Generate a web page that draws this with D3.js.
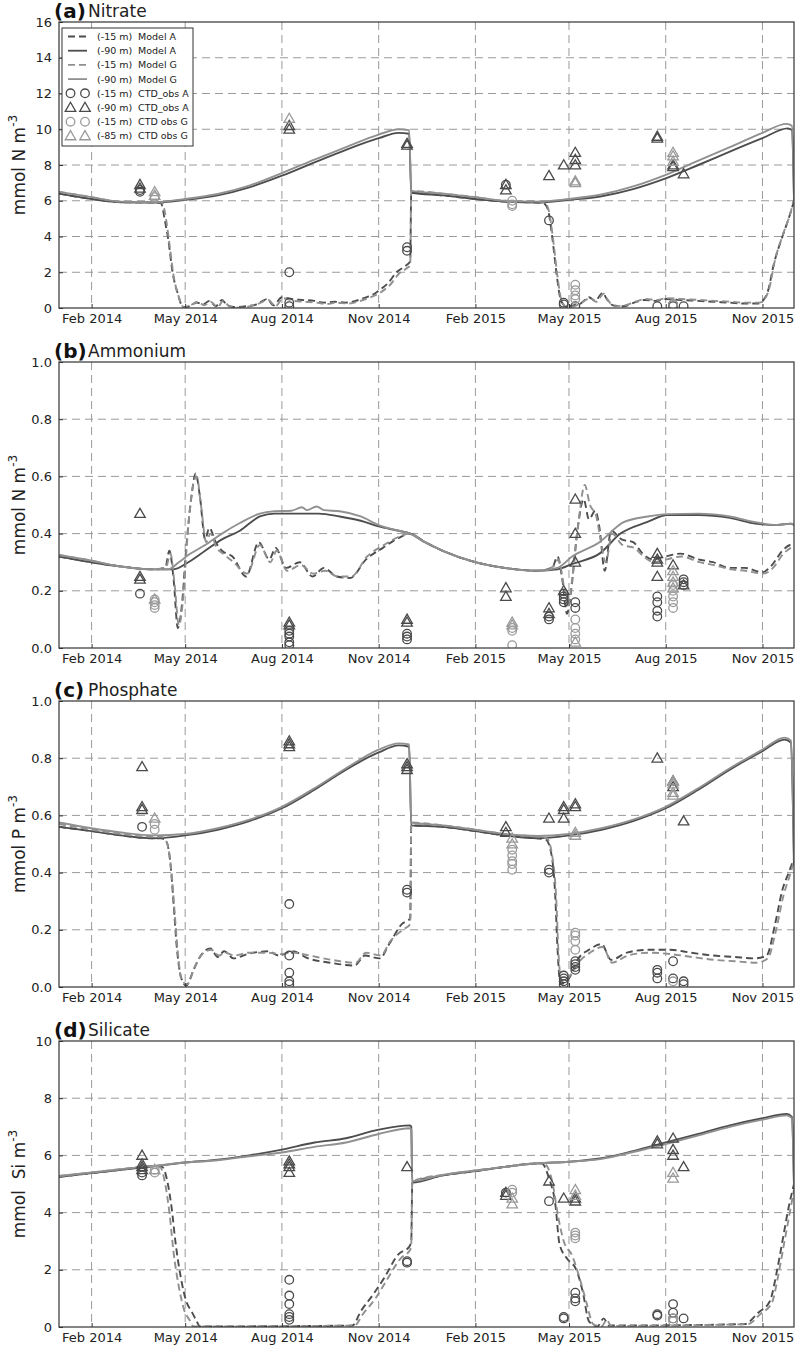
<!DOCTYPE html>
<html>
<head>
<meta charset="utf-8">
<script src="https://cdn.jsdelivr.net/npm/d3@7"></script>
<style>
  body { margin: 0; background: #fff; }
  svg { font-family: "DejaVu Sans", sans-serif; }
</style>
</head>
<body>
<div id="chart"></div>
<script>
// ---- tick labels ----
const xTickDates = ["2014-02-01", "2014-05-01", "2014-08-01", "2014-11-01", "2015-02-01", "2015-05-01", "2015-08-01", "2015-11-01"];
const yTicksNitrate = [0, 2, 4, 6, 8, 10, 12, 14, 16];
const yTicksFrac = [0, 0.2, 0.4, 0.6, 0.8, 1.0];
const yTicksSilicate = [0, 2, 4, 6, 8, 10];

// ---- (a) Nitrate: model series [date, value] ----
const nitrate_A15 = [["2014-01-01",6.4],["2014-02-01",6.1],["2014-03-01",5.92],["2014-04-01",5.9],["2014-04-08",5.85],["2014-04-12",4.8],["2014-04-15",3.8],["2014-04-19",2.0],["2014-04-24",0.8],["2014-04-29",0.05],["2014-05-05",0.1],["2014-05-12",0.3],["2014-05-18",0.2],["2014-05-24",0.4],["2014-05-30",0.1],["2014-06-05",0.45],["2014-06-10",0.15],["2014-06-18",0.05],["2014-06-28",0.1],["2014-07-08",0.2],["2014-07-18",0.5],["2014-07-24",0.15],["2014-08-01",0.6],["2014-08-10",0.5],["2014-08-20",0.45],["2014-09-01",0.4],["2014-09-10",0.3],["2014-09-20",0.35],["2014-10-01",0.3],["2014-10-10",0.4],["2014-10-20",0.6],["2014-10-28",0.8],["2014-11-04",1.1],["2014-11-10",1.4],["2014-11-18",2.0],["2014-11-25",2.3],["2014-12-01",2.6],["2014-12-02",6.45],["2015-01-01",6.3],["2015-02-01",6.1],["2015-03-01",5.95],["2015-04-01",5.9],["2015-04-07",5.85],["2015-04-11",5.5],["2015-04-15",4.0],["2015-04-19",2.0],["2015-04-23",0.5],["2015-04-28",0.1],["2015-05-05",0.15],["2015-05-12",0.25],["2015-05-20",0.6],["2015-05-26",0.4],["2015-06-02",0.85],["2015-06-06",0.5],["2015-06-12",0.15],["2015-06-22",0.1],["2015-07-02",0.3],["2015-07-12",0.45],["2015-07-22",0.4],["2015-08-01",0.5],["2015-08-15",0.45],["2015-09-01",0.4],["2015-09-15",0.35],["2015-10-01",0.3],["2015-10-15",0.25],["2015-10-28",0.25],["2015-11-02",0.45],["2015-11-06",0.9],["2015-11-12",2.5],["2015-11-20",4.0],["2015-11-27",5.2],["2015-12-01",6.0]];
const nitrate_A90 = [["2014-01-01",6.4],["2014-02-01",6.1],["2014-03-01",5.92],["2014-04-01",5.9],["2014-05-01",6.05],["2014-06-01",6.3],["2014-07-01",6.75],["2014-08-01",7.4],["2014-09-01",8.15],["2014-10-01",8.85],["2014-11-01",9.5],["2014-11-20",9.8],["2014-11-30",9.75],["2014-12-02",6.45],["2015-01-01",6.3],["2015-02-01",6.1],["2015-03-01",5.95],["2015-04-01",5.9],["2015-05-01",6.05],["2015-06-01",6.25],["2015-07-01",6.65],["2015-08-01",7.25],["2015-09-01",8.0],["2015-10-01",8.75],["2015-11-01",9.5],["2015-11-25",10.05],["2015-11-29",9.95],["2015-12-01",6.2]];
const nitrate_G15 = [["2014-01-01",6.5],["2014-02-01",6.2],["2014-03-01",5.95],["2014-04-01",5.92],["2014-04-09",5.9],["2014-04-13",4.9],["2014-04-16",3.6],["2014-04-20",1.8],["2014-04-25",0.6],["2014-04-30",0.02],["2014-05-06",0.15],["2014-05-13",0.35],["2014-05-19",0.15],["2014-05-25",0.35],["2014-06-01",0.05],["2014-06-06",0.4],["2014-06-12",0.1],["2014-06-20",0.02],["2014-06-30",0.08],["2014-07-10",0.25],["2014-07-19",0.45],["2014-07-26",0.1],["2014-08-02",0.55],["2014-08-12",0.4],["2014-08-22",0.35],["2014-09-03",0.3],["2014-09-12",0.22],["2014-09-22",0.3],["2014-10-03",0.25],["2014-10-12",0.35],["2014-10-22",0.55],["2014-10-30",0.75],["2014-11-06",1.0],["2014-11-12",1.3],["2014-11-20",1.9],["2014-11-27",2.2],["2014-12-01",2.4],["2014-12-02",6.55],["2015-01-01",6.4],["2015-02-01",6.2],["2015-03-01",6.0],["2015-04-01",5.95],["2015-04-08",5.9],["2015-04-12",5.4],["2015-04-16",3.8],["2015-04-20",1.8],["2015-04-24",0.4],["2015-04-29",0.05],["2015-05-06",0.1],["2015-05-13",0.3],["2015-05-21",0.55],["2015-05-27",0.35],["2015-06-03",0.8],["2015-06-07",0.45],["2015-06-13",0.1],["2015-06-23",0.15],["2015-07-03",0.35],["2015-07-13",0.5],["2015-07-23",0.45],["2015-08-02",0.55],["2015-08-16",0.5],["2015-09-02",0.45],["2015-09-16",0.4],["2015-10-02",0.35],["2015-10-16",0.3],["2015-10-29",0.3],["2015-11-03",0.5],["2015-11-07",1.0],["2015-11-13",2.7],["2015-11-21",4.2],["2015-11-28",5.4],["2015-12-01",6.1]];
const nitrate_G90 = [["2014-01-01",6.5],["2014-02-01",6.2],["2014-03-01",5.95],["2014-04-01",5.92],["2014-05-01",6.1],["2014-06-01",6.38],["2014-07-01",6.85],["2014-08-01",7.55],["2014-09-01",8.3],["2014-10-01",9.0],["2014-11-01",9.7],["2014-11-20",10.0],["2014-11-30",9.95],["2014-12-02",6.55],["2015-01-01",6.4],["2015-02-01",6.2],["2015-03-01",6.0],["2015-04-01",5.95],["2015-05-01",6.1],["2015-06-01",6.35],["2015-07-01",6.8],["2015-08-01",7.45],["2015-09-01",8.25],["2015-10-01",9.0],["2015-11-01",9.8],["2015-11-24",10.3],["2015-11-29",10.2],["2015-12-01",6.0]];
// observations
const nitrate_obsA15 = [["2014-03-19",6.5],["2014-03-19",6.6],["2014-08-08",2.0],["2014-08-08",0.3],["2014-08-08",0.1],["2014-11-28",3.4],["2014-11-28",3.2],["2015-03-02",6.9],["2015-04-12",4.9],["2015-04-26",0.3],["2015-04-26",0.2],["2015-05-07",0.1],["2015-07-24",0.1],["2015-08-08",0.2],["2015-08-08",0.1],["2015-08-18",0.1]];
const nitrate_obsA90 = [["2014-03-19",6.9],["2014-03-19",6.7],["2014-08-08",10.2],["2014-08-08",10.0],["2014-11-28",9.2],["2014-11-28",9.1],["2015-03-02",6.9],["2015-03-02",6.6],["2015-04-12",7.4],["2015-04-26",8.0],["2015-05-07",8.7],["2015-05-07",8.3],["2015-05-07",8.0],["2015-07-24",9.6],["2015-07-24",9.5],["2015-08-08",8.0],["2015-08-08",7.9],["2015-08-18",7.5]];
const nitrate_obsG15 = [["2014-04-02",6.2],["2015-03-08",6.0],["2015-03-08",5.8],["2015-03-08",5.7],["2015-05-07",1.3],["2015-05-07",1.0],["2015-05-07",0.7],["2015-05-07",0.5],["2015-08-08",0.2]];
const nitrate_obsG85 = [["2014-04-02",6.5],["2014-04-02",6.3],["2014-08-08",10.6],["2015-05-07",7.1],["2015-05-07",7.0],["2015-08-08",8.7],["2015-08-08",8.5],["2015-08-08",8.2]];

// ---- (b) Ammonium ----
const ammonium_A15 = [["2014-01-01",0.32],["2014-02-01",0.30],["2014-03-01",0.285],["2014-04-01",0.275],["2014-04-12",0.28],["2014-04-16",0.34],["2014-04-20",0.24],["2014-04-24",0.07],["2014-04-28",0.155],["2014-05-02",0.35],["2014-05-07",0.53],["2014-05-11",0.61],["2014-05-15",0.53],["2014-05-20",0.38],["2014-05-24",0.42],["2014-05-30",0.37],["2014-06-05",0.34],["2014-06-15",0.32],["2014-06-28",0.25],["2014-07-10",0.37],["2014-07-20",0.31],["2014-07-26",0.35],["2014-08-05",0.28],["2014-08-18",0.30],["2014-08-30",0.25],["2014-09-10",0.28],["2014-09-22",0.25],["2014-10-05",0.245],["2014-10-20",0.31],["2014-11-05",0.35],["2014-11-20",0.385],["2014-12-01",0.40],["2014-12-15",0.37],["2015-01-01",0.34],["2015-02-01",0.30],["2015-03-01",0.28],["2015-04-01",0.27],["2015-04-15",0.28],["2015-04-20",0.32],["2015-04-25",0.23],["2015-04-29",0.12],["2015-05-03",0.20],["2015-05-09",0.41],["2015-05-15",0.52],["2015-05-20",0.45],["2015-05-26",0.48],["2015-05-30",0.42],["2015-06-04",0.27],["2015-06-10",0.41],["2015-06-20",0.38],["2015-07-01",0.37],["2015-07-10",0.33],["2015-07-20",0.31],["2015-08-01",0.32],["2015-08-15",0.33],["2015-09-01",0.31],["2015-09-15",0.30],["2015-10-01",0.28],["2015-10-15",0.28],["2015-11-01",0.265],["2015-11-10",0.29],["2015-11-20",0.34],["2015-11-28",0.36],["2015-12-01",0.36]];
const ammonium_A90 = [["2014-01-01",0.32],["2014-02-01",0.30],["2014-03-01",0.285],["2014-04-01",0.275],["2014-04-20",0.275],["2014-05-04",0.30],["2014-05-20",0.34],["2014-06-05",0.38],["2014-06-22",0.41],["2014-07-11",0.46],["2014-07-25",0.47],["2014-08-15",0.47],["2014-09-05",0.47],["2014-09-25",0.46],["2014-10-15",0.445],["2014-11-01",0.425],["2014-11-20",0.41],["2014-12-01",0.40],["2014-12-15",0.37],["2015-01-01",0.34],["2015-02-01",0.30],["2015-03-01",0.28],["2015-04-01",0.27],["2015-04-20",0.275],["2015-05-05",0.295],["2015-05-30",0.33],["2015-06-19",0.40],["2015-07-14",0.44],["2015-08-03",0.465],["2015-09-01",0.465],["2015-10-01",0.455],["2015-10-25",0.435],["2015-11-15",0.43],["2015-11-28",0.435],["2015-12-01",0.43]];
const ammonium_G15 = [["2014-01-01",0.325],["2014-02-01",0.305],["2014-03-01",0.285],["2014-04-01",0.275],["2014-04-13",0.285],["2014-04-17",0.33],["2014-04-21",0.22],["2014-04-25",0.08],["2014-04-29",0.17],["2014-05-03",0.38],["2014-05-08",0.56],["2014-05-12",0.60],["2014-05-16",0.50],["2014-05-21",0.37],["2014-05-25",0.40],["2014-05-31",0.35],["2014-06-06",0.33],["2014-06-16",0.30],["2014-06-29",0.26],["2014-07-11",0.36],["2014-07-21",0.30],["2014-07-27",0.34],["2014-08-06",0.27],["2014-08-19",0.29],["2014-08-31",0.26],["2014-09-11",0.27],["2014-09-23",0.25],["2014-10-06",0.25],["2014-10-21",0.32],["2014-11-06",0.36],["2014-11-21",0.39],["2014-12-01",0.40],["2014-12-15",0.37],["2015-01-01",0.34],["2015-02-01",0.30],["2015-03-01",0.28],["2015-04-01",0.27],["2015-04-16",0.285],["2015-04-21",0.31],["2015-04-26",0.22],["2015-04-30",0.14],["2015-05-04",0.24],["2015-05-10",0.44],["2015-05-16",0.57],["2015-05-21",0.50],["2015-05-27",0.46],["2015-05-31",0.38],["2015-06-05",0.30],["2015-06-11",0.40],["2015-06-21",0.36],["2015-07-02",0.35],["2015-07-11",0.32],["2015-07-21",0.30],["2015-08-02",0.31],["2015-08-16",0.32],["2015-09-02",0.30],["2015-09-16",0.29],["2015-10-02",0.275],["2015-10-16",0.27],["2015-11-02",0.26],["2015-11-11",0.28],["2015-11-21",0.33],["2015-11-28",0.35],["2015-12-01",0.355]];
const ammonium_G90 = [["2014-01-01",0.325],["2014-02-01",0.305],["2014-03-01",0.285],["2014-04-01",0.275],["2014-04-15",0.275],["2014-04-25",0.30],["2014-05-04",0.325],["2014-05-20",0.36],["2014-06-05",0.40],["2014-06-22",0.437],["2014-07-11",0.47],["2014-07-25",0.478],["2014-08-10",0.48],["2014-08-20",0.492],["2014-08-25",0.482],["2014-09-03",0.495],["2014-09-10",0.482],["2014-09-25",0.478],["2014-10-15",0.46],["2014-11-01",0.43],["2014-11-20",0.41],["2014-12-01",0.40],["2014-12-15",0.37],["2015-01-01",0.34],["2015-02-01",0.30],["2015-03-01",0.28],["2015-04-01",0.27],["2015-04-20",0.28],["2015-05-04",0.32],["2015-05-30",0.37],["2015-06-22",0.44],["2015-07-15",0.46],["2015-08-03",0.468],["2015-09-01",0.47],["2015-10-01",0.46],["2015-10-25",0.44],["2015-11-15",0.43],["2015-11-28",0.435],["2015-12-01",0.43]];
const ammonium_obsA15 = [["2014-03-19",0.19],["2014-08-08",0.06],["2014-08-08",0.05],["2014-08-08",0.04],["2014-08-08",0.02],["2014-08-08",0.01],["2014-11-28",0.05],["2014-11-28",0.04],["2014-11-28",0.03],["2015-04-12",0.11],["2015-04-12",0.10],["2015-04-26",0.19],["2015-04-26",0.18],["2015-04-26",0.17],["2015-04-26",0.16],["2015-05-07",0.16],["2015-05-07",0.14],["2015-07-24",0.18],["2015-07-24",0.16],["2015-07-24",0.13],["2015-07-24",0.11],["2015-08-18",0.24],["2015-08-18",0.23],["2015-08-18",0.22]];
const ammonium_obsA90 = [["2014-03-19",0.47],["2014-03-19",0.25],["2014-03-19",0.24],["2014-08-08",0.09],["2014-08-08",0.08],["2014-11-28",0.10],["2014-11-28",0.09],["2015-03-02",0.21],["2015-03-02",0.18],["2015-04-12",0.14],["2015-04-12",0.12],["2015-04-26",0.20],["2015-05-07",0.52],["2015-05-07",0.40],["2015-05-07",0.30],["2015-07-24",0.33],["2015-07-24",0.31],["2015-07-24",0.30],["2015-07-24",0.25],["2015-08-08",0.29],["2015-08-18",0.22]];
const ammonium_obsG15 = [["2014-04-02",0.17],["2014-04-02",0.16],["2014-04-02",0.15],["2014-04-02",0.14],["2015-03-08",0.07],["2015-03-08",0.06],["2015-03-08",0.01],["2015-05-07",0.10],["2015-05-07",0.07],["2015-05-07",0.05],["2015-05-07",0.03],["2015-08-08",0.22],["2015-08-08",0.20],["2015-08-08",0.18],["2015-08-08",0.16],["2015-08-08",0.14]];
const ammonium_obsG85 = [["2014-04-02",0.17],["2015-03-08",0.09],["2015-03-08",0.08],["2015-05-07",0.02],["2015-08-08",0.27],["2015-08-08",0.25],["2015-08-08",0.23],["2015-08-08",0.21]];

// ---- (c) Phosphate ----
const phosphate_A15 = [["2014-01-01",0.56],["2014-02-01",0.545],["2014-03-01",0.53],["2014-04-01",0.52],["2014-04-08",0.52],["2014-04-13",0.51],["2014-04-17",0.43],["2014-04-20",0.29],["2014-04-23",0.14],["2014-04-27",0.035],["2014-05-02",0.005],["2014-05-09",0.06],["2014-05-15",0.105],["2014-05-25",0.135],["2014-06-01",0.105],["2014-06-07",0.125],["2014-06-16",0.10],["2014-06-29",0.115],["2014-07-19",0.125],["2014-07-29",0.11],["2014-08-11",0.125],["2014-08-26",0.10],["2014-09-16",0.085],["2014-10-09",0.075],["2014-10-19",0.11],["2014-11-02",0.10],["2014-11-11",0.15],["2014-11-23",0.22],["2014-12-01",0.24],["2014-12-02",0.565],["2015-01-01",0.56],["2015-02-01",0.545],["2015-03-01",0.53],["2015-04-01",0.52],["2015-04-09",0.515],["2015-04-14",0.47],["2015-04-18",0.315],["2015-04-20",0.14],["2015-04-23",0.01],["2015-05-01",0.03],["2015-05-10",0.10],["2015-05-20",0.13],["2015-06-01",0.15],["2015-06-10",0.095],["2015-06-25",0.12],["2015-07-15",0.13],["2015-08-05",0.13],["2015-08-25",0.12],["2015-09-15",0.11],["2015-10-05",0.105],["2015-10-25",0.10],["2015-11-05",0.11],["2015-11-13",0.22],["2015-11-20",0.34],["2015-11-26",0.40],["2015-12-01",0.45]];
const phosphate_A90 = [["2014-01-01",0.56],["2014-02-01",0.545],["2014-03-01",0.53],["2014-04-01",0.52],["2014-05-01",0.53],["2014-06-01",0.55],["2014-07-01",0.58],["2014-08-01",0.625],["2014-09-01",0.69],["2014-10-01",0.76],["2014-11-01",0.82],["2014-11-20",0.845],["2014-11-30",0.84],["2014-12-02",0.565],["2015-01-01",0.56],["2015-02-01",0.545],["2015-03-01",0.53],["2015-04-01",0.52],["2015-05-01",0.53],["2015-06-01",0.55],["2015-07-01",0.58],["2015-08-01",0.625],["2015-09-01",0.69],["2015-10-01",0.76],["2015-11-01",0.825],["2015-11-22",0.865],["2015-11-28",0.855],["2015-12-01",0.43]];
const phosphate_G15 = [["2014-01-01",0.57],["2014-02-01",0.55],["2014-03-01",0.535],["2014-04-01",0.525],["2014-04-09",0.525],["2014-04-14",0.50],["2014-04-18",0.40],["2014-04-21",0.26],["2014-04-24",0.12],["2014-04-28",0.02],["2014-05-03",0.01],["2014-05-10",0.07],["2014-05-16",0.11],["2014-05-26",0.13],["2014-06-02",0.11],["2014-06-08",0.12],["2014-06-17",0.11],["2014-06-30",0.12],["2014-07-20",0.12],["2014-07-30",0.115],["2014-08-12",0.12],["2014-08-27",0.11],["2014-09-17",0.095],["2014-10-10",0.085],["2014-10-20",0.12],["2014-11-03",0.11],["2014-11-12",0.16],["2014-11-24",0.20],["2014-12-01",0.22],["2014-12-02",0.575],["2015-01-01",0.565],["2015-02-01",0.55],["2015-03-01",0.535],["2015-04-01",0.525],["2015-04-10",0.52],["2015-04-15",0.46],["2015-04-19",0.30],["2015-04-21",0.12],["2015-04-24",0.02],["2015-05-02",0.04],["2015-05-11",0.09],["2015-05-21",0.12],["2015-06-02",0.14],["2015-06-11",0.085],["2015-06-26",0.11],["2015-07-16",0.12],["2015-08-06",0.115],["2015-08-26",0.105],["2015-09-16",0.095],["2015-10-06",0.09],["2015-10-26",0.085],["2015-11-06",0.10],["2015-11-14",0.20],["2015-11-21",0.32],["2015-11-27",0.39],["2015-12-01",0.44]];
const phosphate_G90 = [["2014-01-01",0.575],["2014-02-01",0.555],["2014-03-01",0.54],["2014-04-01",0.53],["2014-05-01",0.535],["2014-06-01",0.555],["2014-07-01",0.585],["2014-08-01",0.63],["2014-09-01",0.695],["2014-10-01",0.765],["2014-11-01",0.83],["2014-11-20",0.852],["2014-11-30",0.848],["2014-12-02",0.575],["2015-01-01",0.565],["2015-02-01",0.55],["2015-03-01",0.535],["2015-04-01",0.528],["2015-05-01",0.535],["2015-06-01",0.555],["2015-07-01",0.585],["2015-08-01",0.63],["2015-09-01",0.695],["2015-10-01",0.765],["2015-11-01",0.83],["2015-11-22",0.872],["2015-11-28",0.862],["2015-12-01",0.44]];
const phosphate_obsA15 = [["2014-03-21",0.56],["2014-08-08",0.29],["2014-08-08",0.11],["2014-08-08",0.05],["2014-08-08",0.02],["2014-08-08",0.01],["2014-11-28",0.34],["2014-11-28",0.33],["2015-04-12",0.41],["2015-04-12",0.40],["2015-04-26",0.04],["2015-04-26",0.03],["2015-04-26",0.02],["2015-04-26",0.01],["2015-05-07",0.09],["2015-05-07",0.08],["2015-05-07",0.07],["2015-05-07",0.06],["2015-07-24",0.06],["2015-07-24",0.05],["2015-07-24",0.03],["2015-08-08",0.09],["2015-08-08",0.03],["2015-08-18",0.02],["2015-08-18",0.01]];
const phosphate_obsA90 = [["2014-03-21",0.77],["2014-03-21",0.63],["2014-03-21",0.62],["2014-08-08",0.86],["2014-08-08",0.85],["2014-08-08",0.84],["2014-11-28",0.78],["2014-11-28",0.77],["2014-11-28",0.76],["2015-03-02",0.56],["2015-03-02",0.54],["2015-04-12",0.59],["2015-04-26",0.63],["2015-04-26",0.62],["2015-04-26",0.59],["2015-05-07",0.64],["2015-05-07",0.63],["2015-07-24",0.80],["2015-08-08",0.72],["2015-08-08",0.70],["2015-08-18",0.58]];
const phosphate_obsG15 = [["2014-04-02",0.57],["2014-04-02",0.55],["2015-03-08",0.48],["2015-03-08",0.46],["2015-03-08",0.44],["2015-03-08",0.43],["2015-03-08",0.41],["2015-05-07",0.19],["2015-05-07",0.18],["2015-05-07",0.16],["2015-05-07",0.13],["2015-08-08",0.02]];
const phosphate_obsG85 = [["2014-04-02",0.59],["2015-03-08",0.52],["2015-03-08",0.50],["2015-05-07",0.54],["2015-05-07",0.53],["2015-08-08",0.72],["2015-08-08",0.71],["2015-08-08",0.68],["2015-08-08",0.67]];

// ---- (d) Silicate ----
const silicate_A15 = [["2014-01-01",5.25],["2014-02-01",5.38],["2014-03-01",5.5],["2014-04-01",5.62],["2014-04-09",5.6],["2014-04-14",5.1],["2014-04-18",4.2],["2014-04-22",2.9],["2014-04-27",1.7],["2014-05-02",0.9],["2014-05-07",0.55],["2014-05-12",0.2],["2014-05-15",0.02],["2014-10-07",0.05],["2014-10-15",0.55],["2014-10-27",1.15],["2014-11-06",1.7],["2014-11-20",2.55],["2014-11-30",2.8],["2014-12-02",3.0],["2014-12-03",5.05],["2015-01-01",5.3],["2015-02-01",5.45],["2015-03-01",5.6],["2015-04-01",5.72],["2015-04-05",5.72],["2015-04-12",5.2],["2015-04-18",4.3],["2015-04-22",2.9],["2015-04-29",2.4],["2015-05-08",2.0],["2015-05-14",1.25],["2015-05-20",0.2],["2015-05-28",0.02],["2015-06-03",0.3],["2015-06-08",0.05],["2015-10-15",0.1],["2015-10-28",0.5],["2015-11-08",0.9],["2015-11-15",2.0],["2015-11-20",3.0],["2015-11-26",4.2],["2015-12-01",5.0]];
const silicate_A90 = [["2014-01-01",5.25],["2014-02-01",5.38],["2014-03-01",5.5],["2014-04-01",5.62],["2014-05-01",5.75],["2014-06-01",5.85],["2014-07-01",6.0],["2014-08-01",6.2],["2014-09-01",6.45],["2014-10-01",6.6],["2014-11-01",6.9],["2014-12-01",7.05],["2014-12-02",7.0],["2014-12-03",5.05],["2015-01-01",5.3],["2015-02-01",5.45],["2015-03-01",5.6],["2015-04-01",5.72],["2015-05-01",5.78],["2015-06-01",5.9],["2015-07-01",6.15],["2015-08-01",6.45],["2015-09-01",6.75],["2015-10-01",7.05],["2015-11-01",7.3],["2015-11-24",7.45],["2015-11-29",7.35],["2015-12-01",5.0]];
const silicate_G15 = [["2014-01-01",5.28],["2014-02-01",5.4],["2014-03-01",5.52],["2014-04-01",5.63],["2014-04-07",5.6],["2014-04-12",5.0],["2014-04-16",4.0],["2014-04-20",2.6],["2014-04-25",1.4],["2014-04-30",0.6],["2014-05-05",0.25],["2014-05-09",0.02],["2014-10-09",0.05],["2014-10-17",0.45],["2014-10-29",1.0],["2014-11-08",1.6],["2014-11-22",2.4],["2014-12-01",2.7],["2014-12-02",2.9],["2014-12-03",5.1],["2015-01-01",5.32],["2015-02-01",5.47],["2015-03-01",5.6],["2015-04-01",5.72],["2015-04-08",5.7],["2015-04-15",5.1],["2015-04-21",3.8],["2015-04-26",3.0],["2015-05-04",2.5],["2015-05-12",1.6],["2015-05-18",0.8],["2015-05-24",0.1],["2015-06-01",0.02],["2015-06-06",0.25],["2015-06-10",0.04],["2015-10-18",0.1],["2015-10-30",0.45],["2015-11-10",0.85],["2015-11-16",1.8],["2015-11-21",2.8],["2015-11-27",4.0],["2015-12-01",4.8]];
const silicate_G90 = [["2014-01-01",5.28],["2014-02-01",5.4],["2014-03-01",5.52],["2014-04-01",5.63],["2014-05-01",5.75],["2014-06-01",5.83],["2014-07-01",5.97],["2014-08-01",6.1],["2014-09-01",6.3],["2014-10-01",6.45],["2014-11-01",6.75],["2014-12-01",6.95],["2014-12-02",6.9],["2014-12-03",5.1],["2015-01-01",5.32],["2015-02-01",5.47],["2015-03-01",5.6],["2015-04-01",5.72],["2015-05-01",5.78],["2015-06-01",5.88],["2015-07-01",6.12],["2015-08-01",6.4],["2015-09-01",6.7],["2015-10-01",7.0],["2015-11-01",7.25],["2015-11-24",7.4],["2015-11-29",7.3],["2015-12-01",4.9]];
const silicate_obsA15 = [["2014-03-21",5.4],["2014-03-21",5.3],["2014-08-08",1.65],["2014-08-08",1.1],["2014-08-08",0.8],["2014-08-08",0.45],["2014-08-08",0.35],["2014-08-08",0.25],["2014-11-28",2.3],["2014-11-28",2.25],["2015-03-02",4.7],["2015-04-12",4.4],["2015-04-26",0.35],["2015-04-26",0.3],["2015-05-07",1.2],["2015-05-07",1.0],["2015-05-07",0.9],["2015-07-24",0.45],["2015-07-24",0.4],["2015-08-08",0.8],["2015-08-08",0.5],["2015-08-08",0.3],["2015-08-18",0.3]];
const silicate_obsA90 = [["2014-03-21",6.0],["2014-03-21",5.7],["2014-03-21",5.6],["2014-03-21",5.5],["2014-08-08",5.8],["2014-08-08",5.7],["2014-08-08",5.6],["2014-08-08",5.4],["2014-11-28",5.6],["2015-03-02",4.7],["2015-03-02",4.6],["2015-04-12",5.1],["2015-04-26",4.5],["2015-05-07",4.5],["2015-05-07",4.4],["2015-07-24",6.5],["2015-07-24",6.4],["2015-08-08",6.6],["2015-08-08",6.2],["2015-08-08",6.0],["2015-08-18",5.6]];
const silicate_obsG15 = [["2014-04-02",5.5],["2014-04-02",5.4],["2015-03-08",4.8],["2015-03-08",4.7],["2015-05-07",3.3],["2015-05-07",3.2],["2015-05-07",3.1],["2015-08-08",0.3],["2015-08-08",0.2]];
const silicate_obsG85 = [["2014-04-02",5.5],["2015-03-08",4.5],["2015-03-08",4.3],["2015-05-07",4.8],["2015-05-07",4.6],["2015-08-08",5.4],["2015-08-08",5.2]];

// legend entries
const legendLabels = [["(-15 m)", "Model A"], ["(-90 m)", "Model A"], ["(-15 m)", "Model G"], ["(-90 m)", "Model G"],
                      ["(-15 m)", "CTD_obs A"], ["(-90 m)", "CTD_obs A"], ["(-15 m)", "CTD obs G"], ["(-85 m)", "CTD obs G"]];

// ---- layout ----
const width = 796, height = 1346;
const left = 59, right = 794, panelH = 286;
const tops = [22, 362, 701, 1041];
const colA = "#4d4d4d", colG = "#909090";
const obsColA = "#4a4a4a", obsColG = "#9a9a9a";
const dash = "7,4";

const panels = [
  { tag: "(a)", name: "Nitrate", unit: "mmol N m", domain: [0, 16], ticks: yTicksNitrate, fmt: d3.format("d"),
    A15: nitrate_A15, A90: nitrate_A90, G15: nitrate_G15, G90: nitrate_G90,
    oA15: nitrate_obsA15, oA90: nitrate_obsA90, oG15: nitrate_obsG15, oG85: nitrate_obsG85 },
  { tag: "(b)", name: "Ammonium", unit: "mmol N m", domain: [0, 1], ticks: yTicksFrac, fmt: d3.format(".1f"),
    A15: ammonium_A15, A90: ammonium_A90, G15: ammonium_G15, G90: ammonium_G90,
    oA15: ammonium_obsA15, oA90: ammonium_obsA90, oG15: ammonium_obsG15, oG85: ammonium_obsG85 },
  { tag: "(c)", name: "Phosphate", unit: "mmol P m", domain: [0, 1], ticks: yTicksFrac, fmt: d3.format(".1f"),
    A15: phosphate_A15, A90: phosphate_A90, G15: phosphate_G15, G90: phosphate_G90,
    oA15: phosphate_obsA15, oA90: phosphate_obsA90, oG15: phosphate_obsG15, oG85: phosphate_obsG85 },
  { tag: "(d)", name: "Silicate", unit: "mmol  Si m", domain: [0, 10], ticks: yTicksSilicate, fmt: d3.format("d"),
    A15: silicate_A15, A90: silicate_A90, G15: silicate_G15, G90: silicate_G90,
    oA15: silicate_obsA15, oA90: silicate_obsA90, oG15: silicate_obsG15, oG85: silicate_obsG85 }
];

const parse = d3.timeParse("%Y-%m-%d");

const svg = d3.select("#chart").append("svg")
  .attr("width", width)
  .attr("height", height);

const x = d3.scaleTime()
  .domain([parse("2014-01-01"), parse("2015-12-01")])
  .range([left, right]);

const tri = d3.symbol().type(d3.symbolTriangle).size(48);

panels.forEach(function (p, i) {
  const top = tops[i], bottom = top + panelH;
  const y = d3.scaleLinear().domain(p.domain).range([bottom, top]);
  const g = svg.append("g");

  // clip to the axes box
  g.append("clipPath").attr("id", "clip" + i)
    .append("rect").attr("x", left).attr("y", top).attr("width", right - left).attr("height", panelH);

  // dashed grid
  const grid = g.append("g").attr("stroke", "#9a9a9a").attr("stroke-width", 1).attr("stroke-dasharray", "8,5");
  grid.selectAll("line.v").data(xTickDates).join("line")
    .attr("x1", d => x(parse(d))).attr("x2", d => x(parse(d)))
    .attr("y1", top).attr("y2", bottom);
  grid.selectAll("line.h").data(p.ticks.slice(1, -1)).join("line")
    .attr("x1", left).attr("x2", right)
    .attr("y1", d => y(d)).attr("y2", d => y(d));

  const plot = g.append("g").attr("clip-path", `url(#clip${i})`);
  const line = d3.line().curve(d3.curveMonotoneX).x(d => x(parse(d[0]))).y(d => y(d[1]));

  // model lines (A then G, G on top)
  [[p.A15, colA, true], [p.A90, colA, false], [p.G15, colG, true], [p.G90, colG, false]].forEach(function (s) {
    plot.append("path").datum(s[0])
      .attr("d", line)
      .attr("fill", "none")
      .attr("stroke", s[1])
      .attr("stroke-width", 1.9)
      .attr("stroke-dasharray", s[2] ? dash : null);
  });

  // observations
  function circles(data, col) {
    plot.append("g").selectAll("circle").data(data).join("circle")
      .attr("cx", d => x(parse(d[0]))).attr("cy", d => y(d[1])).attr("r", 4.3)
      .attr("fill", "none").attr("stroke", col).attr("stroke-width", 1.3);
  }
  function triangles(data, col) {
    plot.append("g").selectAll("path").data(data).join("path")
      .attr("d", tri)
      .attr("transform", d => `translate(${x(parse(d[0]))},${y(d[1]) + 0.8})`)
      .attr("fill", "none").attr("stroke", col).attr("stroke-width", 1.3);
  }
  circles(p.oA15, obsColA);
  triangles(p.oA90, obsColA);
  circles(p.oG15, obsColG);
  triangles(p.oG85, obsColG);

  // frame
  g.append("rect").attr("x", left).attr("y", top).attr("width", right - left).attr("height", panelH)
    .attr("fill", "none").attr("stroke", "#333").attr("stroke-width", 1.2);

  // axes
  const yAxis = g.append("g").attr("transform", `translate(${left},0)`)
    .call(d3.axisLeft(y).tickValues(p.ticks).tickFormat(p.fmt).tickSize(-4).tickPadding(7));
  const xAxis = g.append("g").attr("transform", `translate(0,${bottom})`)
    .call(d3.axisBottom(x).tickValues(xTickDates.map(parse)).tickFormat(d3.timeFormat("%b %Y")).tickSize(-4).tickPadding(6));
  [yAxis, xAxis].forEach(function (a) {
    a.select(".domain").remove();
    a.selectAll(".tick line").attr("stroke", "#333");
    a.selectAll("text").attr("font-size", 13).attr("fill", "#222").attr("font-family", "DejaVu Sans");
  });

  // y label with superscript
  const yl = g.append("text")
    .attr("transform", `translate(25,${(top + bottom) / 2}) rotate(-90)`)
    .attr("text-anchor", "middle")
    .attr("font-size", 17).attr("fill", "#222")
    .style("white-space", "pre");
  yl.append("tspan").text(p.unit);
  yl.append("tspan").attr("dy", -8).attr("font-size", 12).text("-3");

  // panel title
  g.append("text").attr("x", 54).attr("y", top - 4).attr("font-size", 20).attr("font-weight", "bold").attr("fill", "#111").text(p.tag);
  g.append("text").attr("x", 88).attr("y", top - 5).attr("font-size", 17).attr("fill", "#222").text(p.name);
});

// ---- legend in panel (a) ----
const lg = svg.append("g");
lg.append("rect").attr("x", 62).attr("y", 28).attr("width", 131).attr("height", 118)
  .attr("fill", "#fff").attr("stroke", "#333").attr("stroke-width", 1);

legendLabels.forEach(function (lab, k) {
  const ly = 36.5 + k * 14.2;
  if (k < 4) {
    lg.append("line").attr("x1", 68).attr("x2", 87).attr("y1", ly).attr("y2", ly)
      .attr("stroke", k < 2 ? colA : colG).attr("stroke-width", 1.8)
      .attr("stroke-dasharray", k % 2 === 0 ? dash : null);
  } else {
    const col = k < 6 ? obsColA : obsColG;
    [70.5, 85].forEach(function (mx) {
      if (k % 2 === 0) {
        lg.append("circle").attr("cx", mx).attr("cy", ly).attr("r", 4.3)
          .attr("fill", "none").attr("stroke", col).attr("stroke-width", 1.3);
      } else {
        lg.append("path").attr("d", tri()).attr("transform", `translate(${mx},${ly + 0.8})`)
          .attr("fill", "none").attr("stroke", col).attr("stroke-width", 1.3);
      }
    });
  }
  lg.append("text").attr("x", 97).attr("y", ly + 3.5).attr("font-size", 9.5).attr("fill", "#222").text(lab[0]);
  lg.append("text").attr("x", 138).attr("y", ly + 3.5).attr("font-size", 9.5).attr("fill", "#222").text(lab[1]);
});
</script>
</body>
</html>
